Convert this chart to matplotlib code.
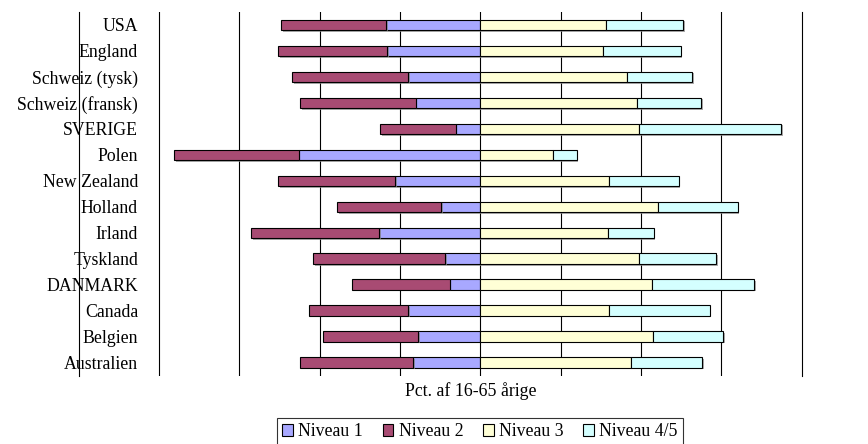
import matplotlib
matplotlib.use("Agg")
import matplotlib.pyplot as plt
import matplotlib.patheffects as pe
import numpy as np

# ---------------------------------------------------------------------------
# Data (pct. of 16-65 year olds per literacy level)
# ---------------------------------------------------------------------------
countries = [
    "USA", "England", "Schweiz (tysk)", "Schweiz (fransk)", "SVERIGE",
    "Polen", "New Zealand", "Holland", "Irland", "Tyskland", "DANMARK",
    "Canada", "Belgien", "Australien",
]
niveau1 = [23.5, 23.2, 17.9, 16.1, 6.1, 45.2, 21.2, 9.8, 25.2, 8.7, 7.6, 17.9, 15.4, 16.8]
niveau2 = [26.1, 27.2, 29.0, 28.7, 18.8, 31.0, 29.1, 25.8, 31.8, 32.9, 24.3, 24.7, 23.8, 28.0]
niveau3 = [31.3, 30.6, 36.5, 39.1, 39.5, 18.0, 32.1, 44.2, 31.7, 39.5, 42.8, 32.1, 43.1, 37.5]
niveau45 = [19.3, 19.3, 16.2, 15.9, 35.4, 6.0, 17.3, 19.9, 11.5, 19.2, 25.4, 25.0, 17.4, 17.8]

series_labels = ["Niveau 1", "Niveau 2", "Niveau 3", "Niveau 4/5"]
colors = ["#A8A8FF", "#A84B73", "#FFFFD6", "#D4FFFF"]

SERIF = ["Liberation Serif", "DejaVu Serif"]
FS = 12.8

# ---------------------------------------------------------------------------
# Draw
# ---------------------------------------------------------------------------
fig = plt.figure(figsize=(8.68, 4.44), dpi=100)
fig.patch.set_facecolor("white")
ax = fig.add_axes([78.8 / 868, 1 - 375.5 / 444, (801.5 - 78.8) / 868, 363.5 / 444])

y = np.arange(len(countries))
n1 = np.array(niveau1)
n2 = np.array(niveau2)
n3 = np.array(niveau3)
n45 = np.array(niveau45)

shadow = [pe.SimplePatchShadow(offset=(1.2, -1.2), shadow_rgbFace="#888888", alpha=0.7),
          pe.Normal()]
bar_kw = dict(height=0.4, edgecolor="black", linewidth=0.8, zorder=3)

handles = []
handles.append(ax.barh(y, -n1, left=0, color=colors[0], label=series_labels[0], **bar_kw))
handles.append(ax.barh(y, -n2, left=-n1, color=colors[1], label=series_labels[1], **bar_kw))
handles.append(ax.barh(y, n3, left=0, color=colors[2], label=series_labels[2], **bar_kw))
handles.append(ax.barh(y, n45, left=n3, color=colors[3], label=series_labels[3], **bar_kw))
for h in handles:
    for p in h.patches:
        p.set_path_effects(shadow)

ax.set_xlim(-100, 80)
ax.set_ylim(len(countries) - 0.5, -0.5)

# vertical gridlines every 20 %
for gx in range(-80, 80, 20):
    ax.axvline(gx, color="black", linewidth=0.8, zorder=1)
for side in ("top", "bottom"):
    ax.spines[side].set_visible(False)
for side in ("left", "right"):
    ax.spines[side].set_linewidth(0.8)
    ax.spines[side].set_zorder(1)

ax.set_xticks([])
ax.set_yticks(y)
ax.set_yticklabels(countries, fontsize=FS, family=SERIF)
ax.tick_params(axis="y", length=0, pad=-(138 - 78.8) * 0.72)
for lbl in ax.get_yticklabels():
    lbl.set_horizontalalignment("right")

fig.text(471 / 868, 1 - 391 / 444, "Pct. af 16-65 årige", ha="center", va="center",
         fontsize=FS, family=SERIF)

leg = fig.legend(
    handles=handles,
    loc="upper center",
    bbox_to_anchor=(480 / 868, 1 - 418 / 444),
    ncol=4,
    frameon=True,
    fancybox=False,
    prop={"family": SERIF, "size": FS},
    handlelength=0.6,
    handleheight=0.6,
    handletextpad=0.3,
    columnspacing=1.1,
    borderpad=0.3,
    borderaxespad=0,
)
leg.get_frame().set_edgecolor("black")
leg.get_frame().set_linewidth(0.8)
for h in leg.legend_handles:
    h.set_path_effects([])

fig.savefig("out.png", dpi=100, facecolor="white")
